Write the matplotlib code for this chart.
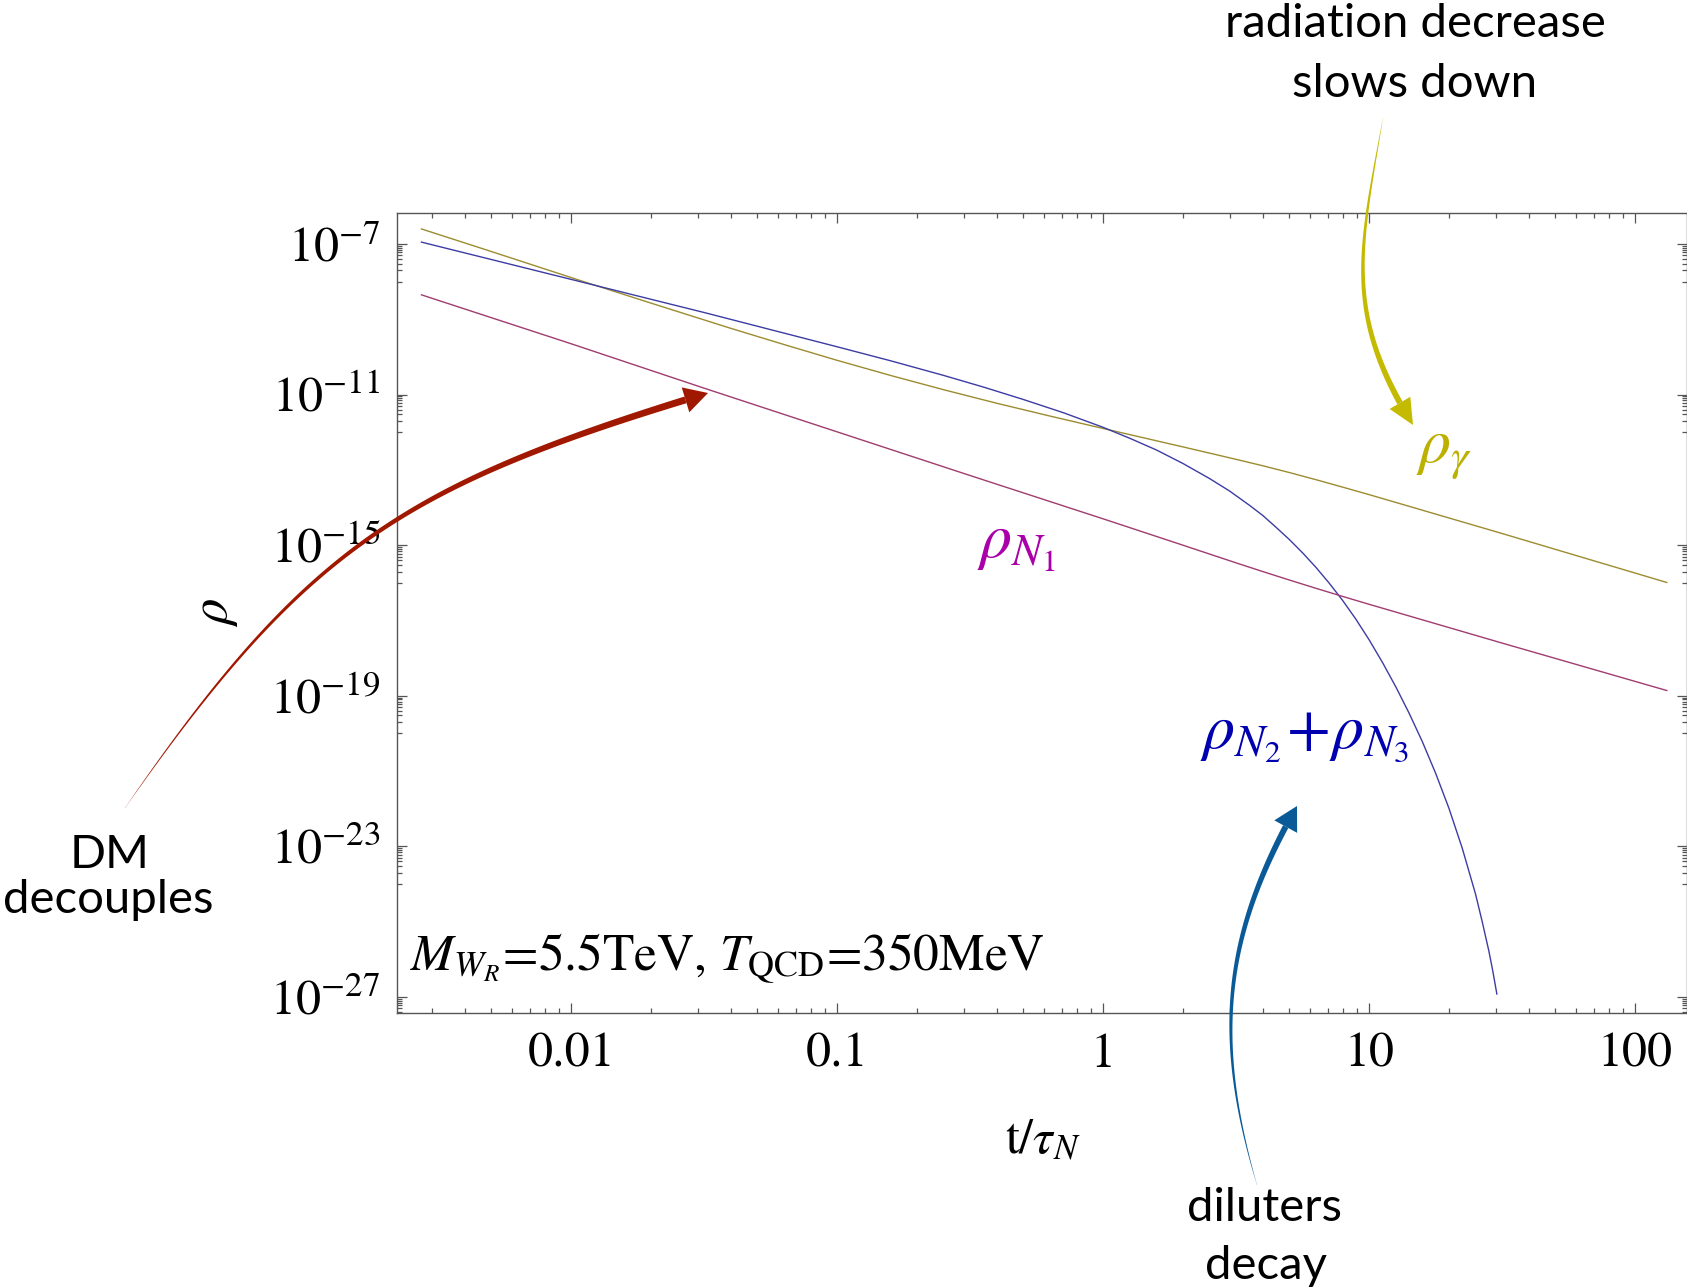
import numpy as np
import matplotlib
matplotlib.use("Agg")
import matplotlib.pyplot as plt
from matplotlib.patches import Polygon
from matplotlib.ticker import FixedLocator, NullFormatter

plt.rcParams['mathtext.fontset'] = 'stix'
plt.rcParams['font.family'] = 'STIXGeneral'

# ---- data: log10 of energy densities vs log10(t / tau_N) ----
log_t_gamma = [-2.563, -2.3, -1.966, -1.7, -1.4, -1.2, -1.0, -0.8, -0.6, -0.4, -0.2,
               0.0, 0.264, 0.4, 0.5, 0.6, 0.7, 0.8, 0.9, 1.0, 1.5, 2.119]
log_rho_gamma = [-6.60, -7.20, -7.97, -8.57, -9.24, -9.67, -10.09, -10.49, -10.87, -11.23,
                 -11.57, -11.90, -12.33, -12.554, -12.72, -12.89, -13.07, -13.26, -13.457,
                 -13.657, -14.69, -15.99]

log_t_n1 = [-2.563, -2.0, -1.5, -1.0, -0.5, 0.0, 0.3, 0.5, 0.6, 0.7, 0.8, 0.9, 1.0,
            1.5, 2.119]
log_rho_n1 = [-8.35, -9.65, -10.83, -11.99, -13.15, -14.30, -15.00, -15.47, -15.70,
              -15.925, -16.145, -16.36, -16.57, -17.60, -18.86]

log_t_n23 = [-2.563, -2.0, -1.5, -1.0, -0.8, -0.6, -0.45, -0.3, -0.15, 0.0, 0.1, 0.2,
             0.3, 0.4, 0.475, 0.55, 0.6, 0.65, 0.7, 0.75, 0.8, 0.85, 0.9, 0.95, 1.0,
             1.05, 1.1, 1.15, 1.2, 1.25, 1.3, 1.35, 1.4, 1.425, 1.45, 1.465, 1.48]
log_rho_n23 = [-6.95, -7.94, -8.82, -9.73, -10.10, -10.49, -10.80, -11.13, -11.48, -11.87,
               -12.16, -12.47, -12.83, -13.23, -13.56, -13.94, -14.21, -14.525, -14.85,
               -15.205, -15.59, -16.01, -16.465, -16.965, -17.515, -18.114, -18.76,
               -19.46, -20.22, -21.06, -21.99, -23.05, -24.27, -25.0, -25.78, -26.32,
               -26.92]

x_ticks = [0.01, 0.1, 1, 10, 100]
x_tick_labels = ['0.01', '0.1', '1', '10', '100']
y_exponents = [-7, -11, -15, -19, -23, -27]

W, H = 1687, 1287
fig = plt.figure(figsize=(W / 100, H / 100), dpi=100)
ax = fig.add_axes([397 / W, 1 - 1013 / H, (1686.5 - 397) / W, (1013 - 212.5) / H])
ax.set_xscale('log')
ax.set_yscale('log')
ax.set_xlim(10 ** -2.655, 10 ** 2.193)
ax.set_ylim(10 ** -27.425, 10 ** -6.163)


def curve(log_t, log_rho, color):
    ax.plot(10.0 ** np.asarray(log_t), 10.0 ** np.asarray(log_rho), color=color, lw=1.0,
            solid_joinstyle='round')


curve(log_t_gamma, log_rho_gamma, '#9c8c30')
curve(log_t_n23, log_rho_n23, '#3c3ca4')
curve(log_t_n1, log_rho_n1, '#a03c70')

spine_col = '#555555'
for s in ax.spines.values():
    s.set_color(spine_col)
    s.set_linewidth(1.0)

ax.xaxis.set_major_locator(FixedLocator(x_ticks))
ax.set_xticklabels(x_tick_labels)
ax.xaxis.set_minor_locator(FixedLocator(
    [k * 10.0 ** e for e in range(-3, 3) for k in range(2, 10)]))
ax.xaxis.set_minor_formatter(NullFormatter())

ax.yaxis.set_major_locator(FixedLocator([10.0 ** e for e in y_exponents]))
ax.set_yticklabels([r'$10^{%d}$' % e for e in y_exponents])
ax.yaxis.set_minor_locator(FixedLocator(
    [k * 10.0 ** (e - 1) for e in y_exponents for k in range(1, 10)]))
ax.yaxis.set_minor_formatter(NullFormatter())

ax.tick_params(which='both', direction='in', top=True, right=True,
               color=spine_col, width=0.9, labelcolor='black')
ax.tick_params(which='major', length=7)
ax.tick_params(which='minor', length=3.5)
ax.tick_params(axis='x', which='major', labelsize=36, pad=14)
ax.tick_params(axis='y', which='major', labelsize=36, pad=12)

# ---- overlay in pixel coordinates for labels and arrows ----
ov = fig.add_axes([0, 0, 1, 1], zorder=5)
ov.set_xlim(0, W)
ov.set_ylim(H, 0)
ov.axis('off')
ov.patch.set_alpha(0)


def tapered_arrow(p0, p1, p2, p3, color, wmax, head_len, head_w, n=400):
    p0, p1, p2, p3 = (np.array(p, float) for p in (p0, p1, p2, p3))
    s = np.linspace(0, 1, n)[:, None]
    pts = ((1 - s) ** 3) * p0 + 3 * (1 - s) ** 2 * s * p1 + 3 * (1 - s) * s ** 2 * p2 + s ** 3 * p3
    seg = np.r_[0, np.cumsum(np.hypot(*np.diff(pts, axis=0).T))]
    total = seg[-1]
    keep = seg <= total - head_len
    body = pts[keep]
    frac = seg[keep] / (total - head_len)
    d = np.gradient(body, axis=0)
    d /= np.hypot(d[:, 0], d[:, 1])[:, None]
    nrm = np.c_[-d[:, 1], d[:, 0]]
    w = np.maximum(wmax * frac ** 0.8, 0.15)[:, None] / 2
    poly = np.r_[body + nrm * w, (body - nrm * w)[::-1]]
    ov.add_patch(Polygon(poly, closed=True, fc=color, ec='none'))
    base = body[-1]
    u = (p3 - base) / np.hypot(*(p3 - base))
    nv = np.array([-u[1], u[0]])
    ov.add_patch(Polygon([p3, base + nv * head_w, base - nv * head_w],
                         closed=True, fc=color, ec='none'))


tapered_arrow((125, 808), (306, 547), (404, 485), (708, 393), '#a01800', 7, 23, 13)
tapered_arrow((1383, 118), (1360, 248), (1343, 313), (1413, 425), '#c4ba00', 6, 25, 12)
tapered_arrow((1257, 1185), (1214, 1039), (1222, 938), (1297, 806), '#0a5a98', 6, 23, 13)

note_font = dict(family='Lato', fontsize=34, color='black', ha='center', va='baseline')
ov.text(1415, 37, 'radiation decrease', **note_font)
ov.text(1415, 97, 'slows down', **note_font)
ov.text(110, 868, 'DM', **note_font)
ov.text(108, 913, 'decouples', **note_font)
ov.text(1265, 1221, 'diluters', **note_font)
ov.text(1266, 1279, 'decay', **note_font)

ov.text(1416, 463, r'$\rho_\gamma$', fontsize=46, color='#bcb000', ha='left', va='baseline')
ov.text(977, 558, r'$\rho_{N_1}$', fontsize=46, color='#aa00aa', ha='left', va='baseline')
ov.text(1200, 748, r'$\rho_{N_2}\!+\!\rho_{N_3}$', fontsize=46, color='#0000b0',
        ha='left', va='baseline')

ov.text(410, 971, r'$M_{W_R}$=5.5TeV, $T_{\mathrm{QCD}}$=350MeV', fontsize=37,
        color='black', ha='left', va='baseline')

ov.text(215, 613, r'$\rho$', fontsize=38, rotation=90, ha='center', va='center')
ov.text(1043, 1141, r'$\mathrm{t}/\tau_N$', fontsize=36, ha='center', va='center')

fig.savefig('out.png', dpi=100)
